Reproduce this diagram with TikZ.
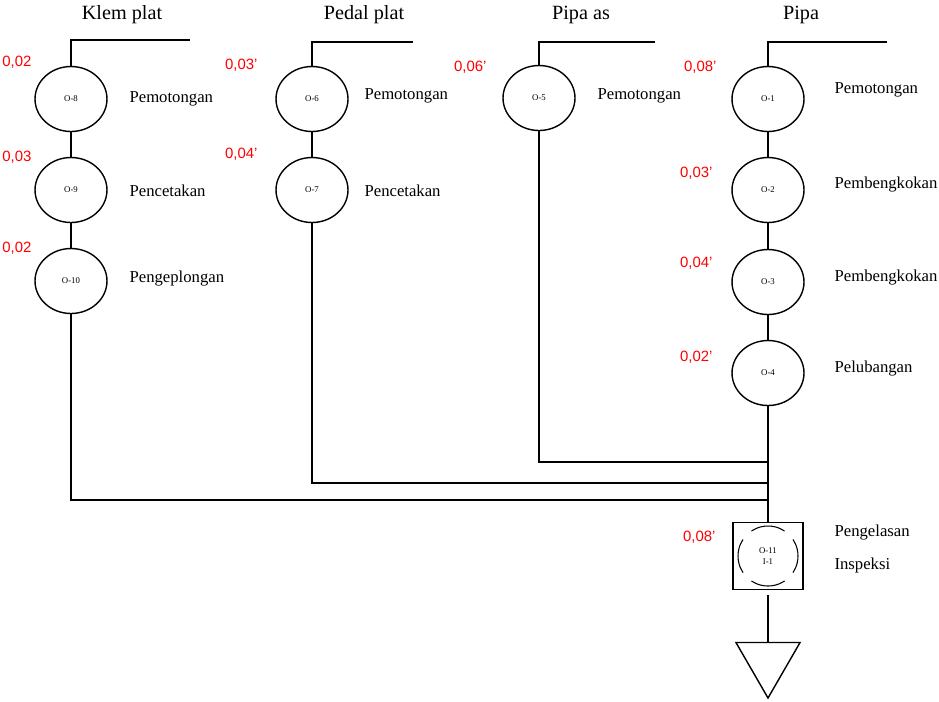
\documentclass[tikz,border=0pt]{standalone}
\usepackage{fontspec}
\setmainfont{Liberation Serif}
\setsansfont{Liberation Sans}
\usetikzlibrary{shapes.geometric}

\begin{document}
\begin{tikzpicture}[
  x=0.02cm, y=-0.02cm, line width=0.8pt,
  op/.style={ellipse, draw, inner sep=0pt, minimum width=1.44cm, minimum height=1.3cm, font=\fontsize{5}{6}\selectfont, align=center},
  insp/.style={rectangle, draw, inner sep=0pt, minimum width=1.4cm, minimum height=1.34cm},
  ket/.style={anchor=west, font=\fontsize{9.5}{11}\selectfont},
  judul/.style={font=\fontsize{11.5}{13}\selectfont},
  waktu/.style={anchor=east, text=red, font=\sffamily\fontsize{8.5}{10}\selectfont}
]
  \useasboundingbox (0,0) rectangle (939,701);
  % titles
  \node[judul] (tklem) at (122,15) {Klem plat};
  \node[judul] (tpedal) at (364,15) {Pedal plat};
  \node[judul] (tas) at (581,15) {Pipa as};
  \node[judul] (tpipa) at (801,15) {Pipa};
  % Klem plat
  \node[op] (o8) at (71,99) {O-8};
  \node[op] (o9) at (71,190) {O-9};
  \node[op] (o10) at (71,281) {O-10};
  \node[ket] (k8) at (123,99) {Pemotongan};
  \node[ket] (k9) at (123,191) {Pencetakan};
  \node[ket] (k10) at (123,278) {Pengeplongan};
  \node[waktu] (w8) at (38,62) {0,02};
  \node[waktu] (w9) at (38,157) {0,03};
  \node[waktu] (w10) at (38,248) {0,02};
  % Pedal plat
  \node[op] (o6) at (312,99) {O-6};
  \node[op] (o7) at (312,190) {O-7};
  \node[ket] (k6) at (358,96) {Pemotongan};
  \node[ket] (k7) at (358,191) {Pencetakan};
  \node[waktu] (w6) at (264,65) {0,03'};
  \node[waktu] (w7) at (264,154) {0,04'};
  % Pipa as
  \node[op] (o5) at (539,98) {O-5};
  \node[ket] (k5) at (591,96) {Pemotongan};
  \node[waktu] (w5) at (493,67) {0,06'};
  % Pipa
  \node[op] (o1) at (768,99) {O-1};
  \node[op] (o2) at (768,190) {O-2};
  \node[op] (o3) at (768,282) {O-3};
  \node[op] (o4) at (768,373) {O-4};
  \node[ket] (k1) at (828,90) {Pemotongan};
  \node[ket] (k2) at (828,185) {Pembengkokan};
  \node[ket] (k3) at (828,277) {Pembengkokan};
  \node[ket] (k4) at (828,368) {Pelubangan};
  \node[waktu] (w1) at (723,67) {0,08'};
  \node[waktu] (w2) at (719,173) {0,03'};
  \node[waktu] (w3) at (719,263) {0,04'};
  \node[waktu] (w4) at (719,357) {0,02'};
  % perakitan
  \node[op, draw=none] (o11) at (768,556) {O-11\\I-1};
  \node[insp] (s11) at (o11) {};
  \draw[dash pattern=on 20pt off 6.8pt, dash phase=10pt, line width=0.6pt] (o11.center) circle (0.6cm);
  \node[ket] (k11) at (828,532) {Pengelasan};
  \node[ket] (k12) at (828,565) {Inspeksi};
  \node[waktu] (w11) at (722,537) {0,08'};
  \node[regular polygon, regular polygon sides=3, shape border rotate=180, draw, inner sep=0pt, minimum size=1.48cm] (simpan) at (768,661) {};
  % start lines
  \coordinate (a8) at (190,40);
  \coordinate (a6) at (413,42);
  \coordinate (a5) at (655,42);
  \coordinate (a1) at (887,42);
  \draw (o8.north) |- (a8);
  \draw (o6.north) |- (a6);
  \draw (o5.north) |- (a5);
  \draw (o1.north) |- (a1);
  % flows
  \coordinate (j5) at (768,462);
  \coordinate (j7) at (768,483);
  \coordinate (j10) at (768,500);
  \draw (o8) -- (o9) -- (o10) |- (j10);
  \draw (o6) -- (o7) |- (j7);
  \draw (o5) |- (j5);
  \draw (o1) -- (o2) -- (o3) -- (o4) -- (s11);
  \draw[shorten <=3pt] (s11) -- (simpan);
\end{tikzpicture}
\end{document}
